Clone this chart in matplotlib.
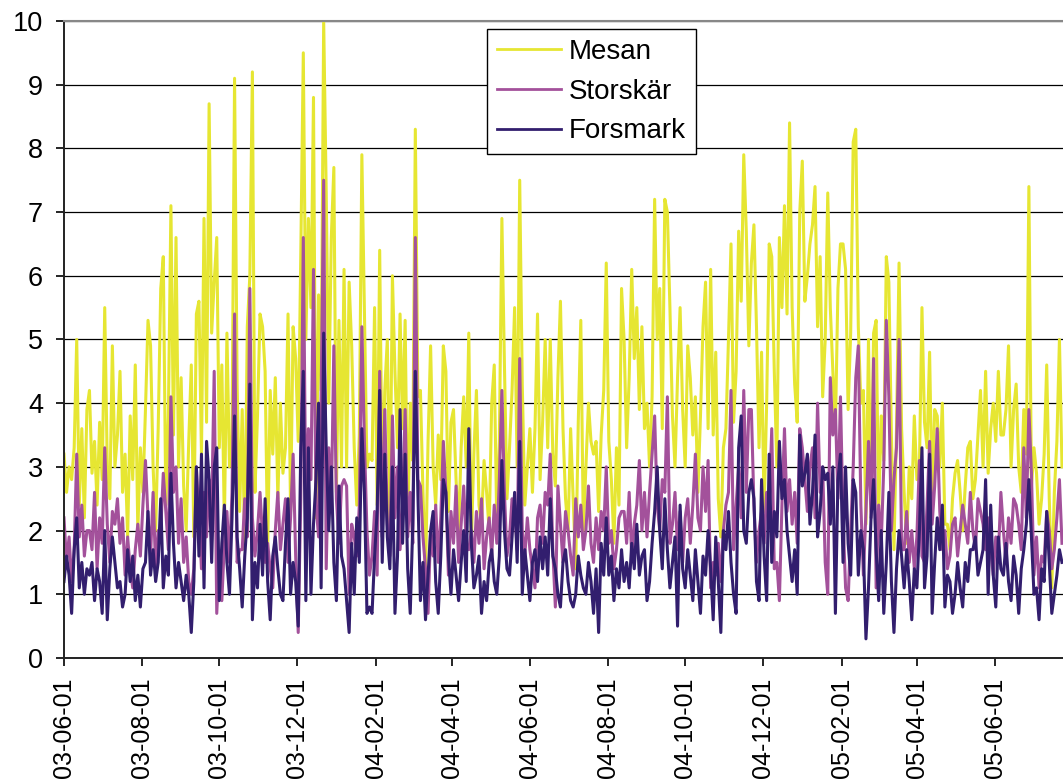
import pandas as pd
import matplotlib
matplotlib.use('Agg')
import matplotlib.pyplot as plt
import matplotlib.dates as mdates

plt.rcParams['font.family'] = ['Liberation Sans', 'DejaVu Sans']

# readings every second day, starting 2003-06-01
mesan = [
    3.2, 2.6, 3.0, 2.8, 3.3, 5.0, 2.4, 3.6, 2.2, 3.9,
    4.2, 2.9, 3.4, 2.4, 3.7, 2.8, 5.5, 3.0, 2.5, 4.9,
    3.0, 3.5, 4.5, 2.6, 3.2, 1.9, 3.8, 2.8, 4.6, 2.0,
    3.3, 2.6, 3.9, 5.3, 4.9, 3.0, 2.0, 3.6, 5.8, 6.3,
    2.4, 3.8, 7.1, 3.5, 6.6, 3.0, 4.4, 2.7, 2.0, 3.4,
    4.6, 1.9, 5.4, 5.6, 3.2, 6.9, 3.7, 8.7, 5.1, 5.9,
    6.6, 3.3, 4.6, 2.1, 5.1, 3.0, 3.5, 9.1, 4.3, 2.3,
    3.9, 1.7, 5.2, 6.0, 9.2, 2.6, 3.8, 5.4, 5.2, 4.5,
    1.7, 4.2, 3.2, 4.4, 2.5, 4.0, 2.9, 3.3, 5.4, 2.3,
    5.2, 4.7, 3.4, 6.3, 9.5, 5.0, 6.9, 5.5, 8.8, 2.2,
    5.7, 4.2, 10.0, 7.3, 4.0, 6.6, 7.7, 2.6, 5.3, 3.0,
    6.1, 3.0, 5.9, 4.9, 3.3, 2.4, 3.5, 7.9, 5.4, 3.0,
    3.2, 3.1, 5.5, 2.4, 6.4, 2.6, 4.2, 5.0, 2.0, 6.0,
    4.5, 3.3, 5.4, 3.6, 5.3, 2.0, 4.0, 3.1, 8.3, 4.1,
    4.2, 2.6, 1.3, 3.4, 4.9, 3.0, 2.4, 3.5, 2.8, 4.9,
    4.5, 2.3, 3.7, 3.9, 2.8, 2.0, 3.3, 4.1, 3.0, 5.1,
    1.8, 3.2, 4.2, 2.4, 2.1, 3.1, 2.6, 2.0, 4.0, 4.6,
    2.1, 3.4, 6.9, 4.6, 2.5, 3.3, 4.2, 5.5, 3.0, 7.5,
    4.3, 2.4, 3.0, 3.6, 2.6, 3.6, 5.4, 2.8, 3.7, 5.0,
    3.3, 5.0, 3.2, 2.7, 4.4, 5.6, 3.6, 2.5, 2.0, 3.6,
    2.5, 1.4, 3.7, 5.3, 2.0, 3.0, 4.0, 3.4, 3.2, 3.4,
    2.3, 3.5, 4.2, 6.2, 3.4, 2.8, 1.8, 3.3, 2.4, 5.8,
    5.0, 3.3, 4.4, 6.1, 4.7, 5.5, 3.9, 5.2, 3.6, 4.0,
    3.0, 4.1, 7.2, 5.0, 5.8, 3.6, 7.2, 7.0, 5.5, 3.8,
    3.0, 4.4, 5.5, 3.9, 3.0, 4.9, 4.4, 3.5, 4.1, 2.6,
    3.8, 5.2, 5.9, 3.6, 6.1, 3.5, 4.8, 2.5, 1.9, 3.3,
    3.6, 5.0, 6.5, 3.7, 4.5, 6.7, 5.6, 7.9, 6.7, 4.9,
    6.2, 6.8, 5.2, 3.3, 4.8, 2.3, 4.0, 6.5, 6.3, 4.5,
    3.0, 6.6, 5.5, 7.1, 5.4, 8.4, 5.5, 4.3, 3.7, 7.0,
    7.8, 5.6, 6.0, 6.5, 6.8, 7.4, 5.2, 6.3, 4.1, 5.0,
    7.3, 5.5, 4.5, 3.6, 5.8, 6.5, 6.5, 6.1, 3.9, 5.1,
    8.1, 8.3, 5.2, 4.0, 4.2, 2.1, 5.0, 2.3, 5.1, 5.3,
    2.3, 3.8, 3.1, 6.3, 5.9, 3.5, 1.7, 3.6, 6.2, 3.6,
    2.6, 1.8, 3.0, 2.5, 3.8, 2.8, 3.0, 5.5, 3.7, 3.3,
    4.8, 2.5, 3.9, 3.8, 3.0, 4.0, 2.1, 2.1, 1.7, 2.5,
    2.9, 3.1, 2.6, 2.0, 2.7, 3.3, 3.4, 2.5, 2.8, 3.5,
    4.2, 3.0, 4.5, 2.9, 3.6, 4.0, 3.4, 4.5, 3.5, 3.5,
    3.9, 4.9, 3.0, 3.9, 4.3, 3.0, 2.6, 3.9, 3.2, 7.4,
    2.7, 3.3, 2.9, 2.1, 2.5, 3.2, 4.6, 2.5, 1.1, 2.6,
    3.4, 5.0, 3.0,
]

storskar = [
    2.2, 1.5, 1.9, 1.2, 1.7, 3.2, 1.9, 2.4, 1.6, 2.0,
    2.0, 1.7, 2.6, 1.4, 2.2, 1.8, 3.3, 2.1, 1.5, 2.3,
    2.1, 2.5, 1.8, 2.2, 1.3, 1.9, 1.4, 1.1, 1.7, 2.1,
    1.6, 2.4, 3.1, 2.2, 1.6, 2.6, 1.4, 2.0, 2.0, 2.9,
    2.3, 1.7, 4.1, 2.6, 3.0, 1.8, 2.5, 1.5, 1.9, 1.2,
    1.0, 1.4, 3.0, 2.2, 1.4, 2.6, 1.9, 2.8, 2.3, 4.5,
    0.7, 1.6, 0.9, 1.8, 2.3, 1.5, 2.6, 5.4, 1.5, 1.7,
    1.7, 2.5, 1.9, 5.8, 2.2, 1.6, 2.0, 2.6, 1.9, 1.5,
    1.8, 1.4, 1.1, 2.0, 2.6, 1.7, 2.1, 2.5, 1.5, 2.2,
    3.2, 1.6, 0.4, 2.5, 6.6, 2.3, 3.6, 2.8, 6.1, 2.4,
    1.9, 4.1, 7.5, 1.4, 3.3, 2.4, 4.9, 2.5, 1.8, 2.7,
    2.8, 2.7, 1.0, 2.1, 1.9, 1.6, 2.4, 5.2, 3.4, 2.0,
    1.3, 1.6, 2.3, 1.3, 4.5, 1.9, 3.9, 2.1, 1.6, 3.8,
    2.2, 3.0, 1.7, 2.4, 3.9, 1.9, 2.6, 1.8, 6.6, 2.8,
    2.7, 1.9, 1.4, 0.7, 2.0, 1.6, 2.4, 1.5, 2.2, 3.4,
    2.6, 1.3, 2.3, 1.8, 2.7, 1.5, 2.1, 2.7, 1.8, 1.7,
    2.0, 1.5, 2.3, 1.8, 2.5, 1.4, 1.9, 2.2, 1.6, 2.4,
    1.8, 2.8, 4.2, 2.6, 1.6, 1.9, 2.5, 2.4, 1.7, 4.7,
    2.0, 1.6, 2.2, 1.7, 1.4, 1.1, 2.2, 2.4, 1.8, 2.6,
    2.4, 3.2, 1.7, 0.8, 2.7, 2.1, 1.5, 2.3, 2.0, 1.6,
    1.3, 2.5, 1.9, 2.4, 1.7, 2.0, 2.7, 1.8, 1.5, 2.2,
    1.7, 2.3, 2.0, 3.0, 1.8, 2.0, 1.4, 1.7, 2.2, 2.3,
    2.3, 1.8, 2.6, 1.6, 2.1, 2.4, 3.1, 2.0, 2.6, 1.9,
    2.6, 3.2, 3.8, 2.4, 2.0, 2.8, 2.6, 4.1, 1.8, 2.1,
    2.6, 1.7, 2.3, 1.5, 2.2, 2.5, 1.8, 2.4, 3.2, 2.2,
    2.0, 3.0, 2.3, 3.1, 1.1, 1.5, 1.3, 1.8, 1.2, 2.0,
    2.4, 2.6, 4.2, 1.7, 2.4, 3.0, 2.2, 4.2, 2.6, 3.9,
    3.9, 2.4, 1.5, 2.0, 2.3, 1.8, 2.6, 2.3, 3.6, 1.4,
    1.5, 0.9, 2.4, 3.6, 2.3, 2.8, 2.1, 2.6, 1.8, 3.6,
    3.3, 2.8, 2.3, 3.0, 3.3, 2.2, 4.0, 2.6, 3.0, 1.5,
    1.0, 4.4, 3.5, 3.9, 2.5, 4.1, 2.2, 1.1, 0.9, 2.0,
    3.0, 4.4, 4.9, 2.4, 1.3, 2.3, 3.4, 2.2, 4.7, 1.1,
    2.4, 1.8, 3.0, 5.3, 4.1, 2.0, 2.8, 3.3, 5.0, 1.7,
    1.7, 2.3, 1.5, 2.0, 1.4, 1.9, 3.1, 1.6, 1.5, 2.4,
    3.4, 2.1, 2.7, 3.6, 2.3, 1.7, 2.0, 1.4, 1.6, 2.1,
    2.2, 1.6, 2.0, 2.4, 2.1, 1.8, 2.6, 2.0, 1.7, 2.5,
    2.3, 2.1, 1.7, 2.2, 1.7, 1.3, 1.9, 1.6, 2.6, 2.0,
    1.5, 2.2, 1.8, 2.5, 2.4, 2.1, 1.7, 3.3, 2.2, 3.9,
    2.9, 1.3, 1.9, 1.1, 1.6, 1.5, 2.3, 2.0, 1.4, 1.7,
    2.2, 2.8, 1.8,
]

forsmark = [
    1.2, 1.6, 1.3, 0.7, 1.7, 2.2, 1.1, 1.5, 1.0, 1.4,
    1.3, 1.5, 0.9, 1.4, 1.2, 0.7, 2.0, 0.6, 1.4, 1.9,
    1.5, 1.1, 1.2, 0.8, 1.0, 1.7, 1.2, 1.6, 0.9, 1.3,
    0.8, 1.4, 1.5, 2.3, 1.3, 1.7, 1.2, 1.5, 2.5, 1.1,
    1.6, 1.3, 2.9, 1.8, 1.1, 1.5, 1.2, 0.9, 1.3, 1.0,
    0.4, 1.2, 3.0, 1.6, 3.2, 1.1, 3.4, 2.8, 1.5, 3.0,
    3.3, 0.9, 1.8, 2.4, 1.5, 1.0, 2.2, 3.8, 1.9, 1.4,
    0.8, 1.6, 2.2, 4.3, 0.6, 1.5, 1.1, 2.1, 1.3, 2.5,
    1.2, 0.6, 1.6, 1.9, 1.4, 1.0, 0.9, 1.8, 2.5, 1.0,
    1.5, 1.2, 0.5, 3.3, 4.5, 0.9, 3.3, 1.0, 2.1, 2.8,
    4.0, 1.1, 5.1, 3.3, 2.0, 3.0, 1.5, 0.9, 2.7, 1.6,
    1.4, 0.9, 0.4, 1.8, 1.0, 2.2, 1.5, 3.6, 2.6, 0.7,
    0.8, 0.7, 1.6, 2.3, 4.2, 1.5, 3.2, 1.9, 1.4, 3.0,
    0.7, 1.6, 3.9, 1.8, 3.2, 1.4, 0.7, 2.1, 4.5, 2.6,
    0.9, 1.5, 0.6, 1.3, 2.0, 2.3, 1.2, 0.7, 1.6, 2.8,
    2.6, 1.6, 1.0, 1.7, 1.3, 0.9, 1.5, 2.0, 1.2, 3.6,
    1.8, 1.1, 1.3, 1.6, 0.7, 1.2, 0.9, 1.5, 1.7, 1.2,
    1.0, 1.6, 3.1, 2.0, 1.4, 1.3, 1.9, 2.6, 1.5, 3.4,
    1.0, 1.7, 1.3, 0.9, 1.5, 1.7, 1.2, 1.9, 1.4, 1.9,
    1.3, 2.5, 1.6, 1.4, 1.0, 0.8, 1.5, 1.7, 1.2, 0.9,
    0.8, 1.0, 1.6, 1.3, 1.1, 1.0, 1.5, 1.2, 0.7, 1.4,
    0.4, 1.8, 1.3, 2.2, 1.3, 1.6, 0.9, 1.4, 1.1, 1.7,
    1.2, 1.5, 1.1, 1.8, 1.4, 2.1, 1.3, 1.6, 1.7, 0.9,
    1.2, 1.8, 2.3, 3.0, 2.0, 1.4, 2.5, 1.7, 1.1, 1.5,
    1.9, 0.5, 2.4, 1.4, 1.1, 1.7, 1.3, 0.9, 1.7, 1.2,
    0.7, 1.6, 1.3, 2.0, 1.4, 0.6, 1.9, 1.2, 0.4, 2.0,
    1.7, 2.3, 1.5, 1.0, 0.7, 3.3, 3.8, 2.0, 1.8, 2.6,
    2.8, 2.5, 1.2, 0.9, 2.8, 1.6, 0.9, 3.2, 1.5, 2.3,
    1.9, 3.4, 2.5, 2.8, 2.0, 1.6, 1.2, 1.7, 1.0, 3.5,
    2.7, 2.9, 3.2, 2.1, 2.6, 3.5, 1.9, 2.3, 3.0, 2.8,
    2.9, 2.1, 3.0, 0.7, 2.8, 3.2, 1.5, 3.0, 1.8, 1.3,
    2.8, 2.6, 1.3, 2.0, 1.7, 0.3, 1.1, 2.2, 2.8, 1.7,
    0.9, 2.0, 0.7, 1.5, 2.6, 1.2, 0.4, 1.4, 2.0, 1.6,
    1.1, 1.7, 1.2, 0.6, 1.4, 1.1, 2.0, 3.3, 1.1, 1.6,
    3.2, 0.7, 1.5, 2.2, 1.7, 2.4, 0.8, 1.3, 1.2, 0.7,
    1.0, 1.5, 1.1, 0.8, 1.5, 1.2, 1.7, 1.7, 1.9, 1.3,
    1.5, 1.7, 2.8, 1.0, 2.4, 1.3, 0.8, 1.9, 1.4, 1.3,
    1.8, 1.2, 0.9, 1.6, 1.3, 0.7, 1.4, 1.7, 2.1, 2.8,
    1.9, 1.0, 1.1, 0.6, 1.4, 1.2, 2.3, 1.5, 0.7, 1.0,
    1.3, 1.7, 1.5,
]

names = ['Mesan', 'Storskär', 'Forsmark']
colors = ['#E6E632', '#A3519B', '#321E6E']

fig = plt.figure(figsize=(10.63, 7.82), dpi=100)
ax = fig.add_axes([0.0602, 0.1586, 0.9398, 0.8146])

for vals, name, col in zip([mesan, storskar, forsmark], names, colors):
    d = pd.date_range('2003-06-01', periods=len(vals), freq='2D')
    ax.plot(d, vals, color=col, lw=2.2, label=name)

ax.set_xlim(pd.Timestamp('2003-06-01'), pd.Timestamp('2003-06-01') + pd.Timedelta(days=784.8))
ax.set_ylim(0, 10)
ax.set_yticks(range(0, 11))
ax.xaxis.set_major_locator(mdates.MonthLocator(bymonth=(2, 4, 6, 8, 10, 12)))
ax.xaxis.set_major_formatter(mdates.DateFormatter('%y-%m-%d'))
plt.setp(ax.get_xticklabels(), rotation=90)

ax.grid(axis='y', color='black', lw=0.9)
ax.set_axisbelow(True)
ax.tick_params(axis='x', direction='out', length=6, width=1.2, labelsize=18, pad=8)
ax.tick_params(axis='y', direction='out', length=6, width=1.2, labelsize=19.5, pad=9)
for s in ['left', 'bottom']:
    ax.spines[s].set_color('#222222')
    ax.spines[s].set_linewidth(1.4)
ax.spines['top'].set_color('#888888')
ax.spines['top'].set_linewidth(1.5)
ax.spines['right'].set_visible(False)

leg = ax.legend(loc='upper left', bbox_to_anchor=(0.4234, 0.9874), borderaxespad=0,
                fontsize=20, frameon=True, fancybox=False, framealpha=1,
                edgecolor='black', handlelength=2.3, handletextpad=0.3,
                labelspacing=0.5, borderpad=0.35)
leg.get_frame().set_linewidth(1.0)
for line in leg.get_lines():
    line.set_linewidth(2.0)

fig.savefig('out.png', dpi=100)
